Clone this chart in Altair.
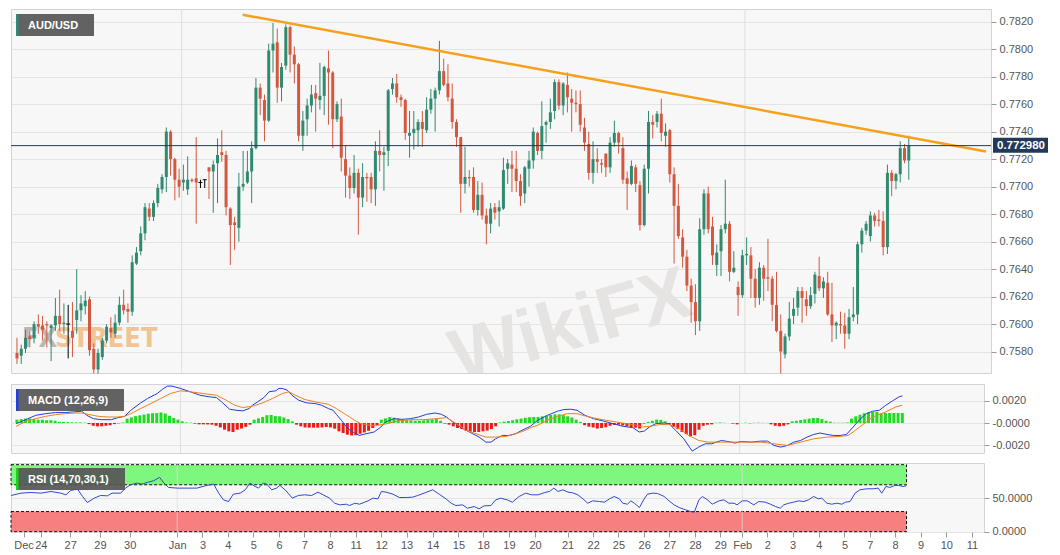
import altair as alt
import pandas as pd

# ------------------------------------------------------------------ data
# 4-hour AUD/USD candles (index 0 = first visible candle)
candle_open = [
    0.7579, 0.7577, 0.7582, 0.7591, 0.7590, 0.7600, 0.7599, 0.7600, 0.7597, 0.7599,
    0.7606, 0.7600, 0.7600, 0.7595, 0.7603, 0.7610, 0.7613, 0.7618, 0.7582, 0.7567,
    0.7576, 0.7588, 0.7597, 0.7593, 0.7601, 0.7614, 0.7611, 0.7609, 0.7644, 0.7653,
    0.7666, 0.7684, 0.7678, 0.7688, 0.7698, 0.7707, 0.7740, 0.7720, 0.7705, 0.7703,
    0.7698, 0.7705, 0.7706, 0.7703, 0.7705, 0.7714, 0.7711, 0.7717, 0.7725, 0.7723,
    0.7684, 0.7674, 0.7670, 0.7700, 0.7703, 0.7711, 0.7728, 0.7772, 0.7763, 0.7748,
    0.7799, 0.7805, 0.7772, 0.7788, 0.7816, 0.7796, 0.7789, 0.7737, 0.7749, 0.7759,
    0.7768, 0.7763, 0.7766, 0.7786, 0.7783, 0.7749, 0.7751, 0.7720, 0.7708, 0.7699,
    0.7710, 0.7692, 0.7707, 0.7707, 0.7698, 0.7726, 0.7723, 0.7726, 0.7771, 0.7775,
    0.7765, 0.7763, 0.7737, 0.7739, 0.7741, 0.7747, 0.7741, 0.7756, 0.7764, 0.7770,
    0.7784, 0.7775, 0.7764, 0.7747, 0.7736, 0.7702, 0.7707, 0.7707, 0.7683, 0.7694,
    0.7679, 0.7673, 0.7685, 0.7682, 0.7684, 0.7713, 0.7716, 0.7713, 0.7704, 0.7695,
    0.7713, 0.7719, 0.7739, 0.7726, 0.7745, 0.7747, 0.7755, 0.7776, 0.7759, 0.7774,
    0.7764, 0.7761, 0.7760, 0.7743, 0.7731, 0.7710, 0.7720, 0.7717, 0.7724, 0.7714,
    0.7732, 0.7739, 0.7728, 0.7706, 0.7702, 0.7714, 0.7701, 0.7672, 0.7713, 0.7747,
    0.7747, 0.7753, 0.7737, 0.7741, 0.7709, 0.7686, 0.7663, 0.7649, 0.7628, 0.7616,
    0.7602, 0.7669, 0.7695, 0.7671, 0.7643, 0.7653, 0.7669, 0.7673, 0.7638, 0.7627,
    0.7621, 0.7650, 0.7650, 0.7633, 0.7619, 0.7641, 0.7634, 0.7633, 0.7614, 0.7595,
    0.7578, 0.7591, 0.7606, 0.7612, 0.7624, 0.7618, 0.7613, 0.7622, 0.7635, 0.7626,
    0.7630, 0.7607, 0.7599, 0.7600, 0.7599, 0.7593, 0.7605, 0.7607, 0.7658, 0.7668,
    0.7664, 0.7679, 0.7676, 0.7675, 0.7656, 0.7710, 0.7704, 0.7709, 0.7728, 0.7719,
]
candle_high = [
    0.7590, 0.7585, 0.7596, 0.7595, 0.7602, 0.7607, 0.7606, 0.7602, 0.7600, 0.7619,
    0.7625, 0.7615, 0.7614, 0.7616, 0.7640, 0.7621, 0.7624, 0.7620, 0.7586, 0.7582,
    0.7590, 0.7600, 0.7605, 0.7607, 0.7620, 0.7625, 0.7615, 0.7650, 0.7656, 0.7671,
    0.7688, 0.7688, 0.7690, 0.7702, 0.7709, 0.7743, 0.7741, 0.7721, 0.7713, 0.7716,
    0.7722, 0.7706, 0.7736, 0.7705, 0.7705, 0.7714, 0.7719, 0.7735, 0.7741, 0.7726,
    0.7685, 0.7678, 0.7710, 0.7726, 0.7726, 0.7733, 0.7779, 0.7775, 0.7767, 0.7804,
    0.7819, 0.7815, 0.7790, 0.7818, 0.7817, 0.7802, 0.7790, 0.7755, 0.7764, 0.7774,
    0.7774, 0.7790, 0.7788, 0.7799, 0.7784, 0.7762, 0.7764, 0.7730, 0.7714, 0.7723,
    0.7713, 0.7717, 0.7710, 0.7710, 0.7733, 0.7741, 0.7729, 0.7771, 0.7779, 0.7782,
    0.7767, 0.7764, 0.7755, 0.7755, 0.7749, 0.7755, 0.7765, 0.7771, 0.7772, 0.7806,
    0.7793, 0.7789, 0.7775, 0.7749, 0.7736, 0.7729, 0.7712, 0.7714, 0.7704, 0.7703,
    0.7684, 0.7688, 0.7688, 0.7690, 0.7721, 0.7720, 0.7726, 0.7726, 0.7709, 0.7715,
    0.7726, 0.7743, 0.7740, 0.7762, 0.7748, 0.7764, 0.7778, 0.7778, 0.7776, 0.7783,
    0.7771, 0.7770, 0.7770, 0.7750, 0.7740, 0.7733, 0.7728, 0.7720, 0.7724, 0.7736,
    0.7748, 0.7740, 0.7736, 0.7711, 0.7719, 0.7716, 0.7704, 0.7716, 0.7755, 0.7752,
    0.7755, 0.7764, 0.7746, 0.7742, 0.7714, 0.7702, 0.7669, 0.7654, 0.7633, 0.7629,
    0.7677, 0.7698, 0.7700, 0.7678, 0.7658, 0.7672, 0.7705, 0.7675, 0.7653, 0.7631,
    0.7654, 0.7663, 0.7656, 0.7640, 0.7645, 0.7643, 0.7662, 0.7635, 0.7638, 0.7607,
    0.7593, 0.7616, 0.7619, 0.7627, 0.7627, 0.7624, 0.7627, 0.7638, 0.7649, 0.7634,
    0.7638, 0.7630, 0.7602, 0.7609, 0.7608, 0.7611, 0.7627, 0.7660, 0.7670, 0.7675,
    0.7682, 0.7681, 0.7683, 0.7682, 0.7716, 0.7712, 0.7710, 0.7733, 0.7731, 0.7737,
]
candle_low = [
    0.7571, 0.7571, 0.7579, 0.7583, 0.7586, 0.7593, 0.7588, 0.7583, 0.7573, 0.7595,
    0.7595, 0.7593, 0.7575, 0.7576, 0.7593, 0.7602, 0.7607, 0.7577, 0.7564, 0.7564,
    0.7574, 0.7586, 0.7590, 0.7590, 0.7599, 0.7607, 0.7601, 0.7606, 0.7643, 0.7650,
    0.7661, 0.7675, 0.7675, 0.7685, 0.7695, 0.7696, 0.7708, 0.7690, 0.7692, 0.7697,
    0.7694, 0.7703, 0.7673, 0.7699, 0.7699, 0.7691, 0.7681, 0.7688, 0.7718, 0.7679,
    0.7643, 0.7654, 0.7660, 0.7697, 0.7702, 0.7688, 0.7727, 0.7752, 0.7733, 0.7747,
    0.7783, 0.7761, 0.7762, 0.7785, 0.7783, 0.7775, 0.7733, 0.7726, 0.7737, 0.7754,
    0.7740, 0.7756, 0.7752, 0.7745, 0.7728, 0.7747, 0.7711, 0.7692, 0.7691, 0.7695,
    0.7665, 0.7685, 0.7689, 0.7688, 0.7686, 0.7711, 0.7697, 0.7715, 0.7767, 0.7761,
    0.7758, 0.7734, 0.7721, 0.7727, 0.7729, 0.7729, 0.7739, 0.7753, 0.7740, 0.7767,
    0.7773, 0.7762, 0.7742, 0.7729, 0.7681, 0.7695, 0.7700, 0.7681, 0.7679, 0.7676,
    0.7658, 0.7666, 0.7676, 0.7671, 0.7683, 0.7702, 0.7696, 0.7696, 0.7686, 0.7688,
    0.7700, 0.7713, 0.7723, 0.7720, 0.7732, 0.7742, 0.7749, 0.7756, 0.7752, 0.7754,
    0.7740, 0.7754, 0.7740, 0.7726, 0.7705, 0.7702, 0.7710, 0.7710, 0.7707, 0.7710,
    0.7729, 0.7724, 0.7702, 0.7683, 0.7701, 0.7696, 0.7668, 0.7671, 0.7695, 0.7735,
    0.7743, 0.7733, 0.7729, 0.7703, 0.7644, 0.7662, 0.7641, 0.7624, 0.7601, 0.7592,
    0.7595, 0.7665, 0.7666, 0.7643, 0.7635, 0.7635, 0.7666, 0.7631, 0.7637, 0.7606,
    0.7619, 0.7643, 0.7619, 0.7612, 0.7614, 0.7617, 0.7624, 0.7602, 0.7594, 0.7564,
    0.7575, 0.7588, 0.7600, 0.7606, 0.7601, 0.7606, 0.7611, 0.7615, 0.7624, 0.7619,
    0.7606, 0.7587, 0.7589, 0.7593, 0.7582, 0.7589, 0.7602, 0.7600, 0.7652, 0.7665,
    0.7660, 0.7671, 0.7671, 0.7650, 0.7651, 0.7693, 0.7698, 0.7703, 0.7717, 0.7705,
]
candle_close = [
    0.7575, 0.7582, 0.7590, 0.7589, 0.7600, 0.7598, 0.7596, 0.7599, 0.7599, 0.7606,
    0.7600, 0.7601, 0.7600, 0.7590, 0.7610, 0.7615, 0.7617, 0.7581, 0.7567, 0.7579,
    0.7588, 0.7598, 0.7594, 0.7601, 0.7614, 0.7610, 0.7609, 0.7645, 0.7652, 0.7666,
    0.7685, 0.7678, 0.7688, 0.7699, 0.7707, 0.7740, 0.7720, 0.7705, 0.7700, 0.7705,
    0.7705, 0.7704, 0.7703, 0.7703, 0.7705, 0.7711, 0.7716, 0.7723, 0.7723, 0.7685,
    0.7672, 0.7672, 0.7700, 0.7702, 0.7711, 0.7728, 0.7772, 0.7764, 0.7748, 0.7799,
    0.7804, 0.7772, 0.7787, 0.7816, 0.7796, 0.7789, 0.7737, 0.7748, 0.7759, 0.7767,
    0.7764, 0.7766, 0.7787, 0.7783, 0.7749, 0.7760, 0.7721, 0.7708, 0.7699, 0.7710,
    0.7692, 0.7707, 0.7706, 0.7698, 0.7726, 0.7723, 0.7725, 0.7770, 0.7775, 0.7765,
    0.7763, 0.7739, 0.7739, 0.7742, 0.7747, 0.7742, 0.7756, 0.7764, 0.7770, 0.7784,
    0.7774, 0.7765, 0.7747, 0.7736, 0.7702, 0.7707, 0.7706, 0.7683, 0.7694, 0.7679,
    0.7673, 0.7684, 0.7681, 0.7685, 0.7712, 0.7717, 0.7713, 0.7704, 0.7693, 0.7714,
    0.7719, 0.7740, 0.7726, 0.7744, 0.7747, 0.7754, 0.7776, 0.7759, 0.7775, 0.7765,
    0.7761, 0.7760, 0.7745, 0.7732, 0.7710, 0.7720, 0.7718, 0.7716, 0.7714, 0.7732,
    0.7739, 0.7732, 0.7705, 0.7702, 0.7715, 0.7702, 0.7672, 0.7713, 0.7747, 0.7745,
    0.7753, 0.7739, 0.7740, 0.7709, 0.7686, 0.7664, 0.7649, 0.7628, 0.7616, 0.7602,
    0.7669, 0.7695, 0.7669, 0.7650, 0.7652, 0.7669, 0.7673, 0.7638, 0.7641, 0.7621,
    0.7650, 0.7651, 0.7633, 0.7619, 0.7641, 0.7633, 0.7633, 0.7614, 0.7595, 0.7580,
    0.7591, 0.7604, 0.7611, 0.7624, 0.7619, 0.7613, 0.7621, 0.7636, 0.7626, 0.7631,
    0.7607, 0.7599, 0.7601, 0.7599, 0.7593, 0.7605, 0.7607, 0.7658, 0.7668, 0.7673,
    0.7679, 0.7675, 0.7675, 0.7656, 0.7710, 0.7704, 0.7709, 0.7728, 0.7719, 0.7730,
]

# MACD histogram, one bar per candle (units of 0.001)
macd_hist = [
    0.3, 0.35, 0.4, 0.4, 0.35, 0.3, 0.3, 0.25, 0.25, 0.2,
    0.1, 0.1, 0.08, 0.06, 0.05, 0.05, 0.03, -0.1, -0.25, -0.3,
    -0.3, -0.25, -0.2, -0.1, -0.03, 0.05, 0.39, 0.5, 0.62, 0.69,
    0.76, 0.84, 0.88, 0.9, 0.95, 0.85, 0.65, 0.45, 0.3, 0.15,
    0.05, 0.03, -0.06, -0.12, -0.12, -0.13, -0.15, -0.25, -0.4, -0.6,
    -0.75, -0.81, -0.6, -0.5, -0.35, -0.15, 0.3, 0.42, 0.54, 0.7,
    0.72, 0.62, 0.6, 0.5, 0.35, 0.15, -0.15, -0.3, -0.4, -0.42,
    -0.42, -0.42, -0.4, -0.36, -0.4, -0.51, -0.75, -0.9, -1.05, -1.12,
    -1.1, -0.97, -0.85, -0.7, -0.45, -0.2, 0.3, 0.42, 0.54, 0.48,
    0.39, 0.3, 0.27, 0.24, 0.2, 0.2, 0.24, 0.3, 0.33, 0.39,
    0.2, -0.05, -0.15, -0.3, -0.45, -0.55, -0.7, -0.78, -0.81, -0.81,
    -0.75, -0.68, -0.55, -0.3, 0.05, 0.12, 0.18, 0.25, 0.33, 0.4,
    0.47, 0.52, 0.54, 0.55, 0.6, 0.66, 0.72, 0.78, 0.78, 0.7,
    0.6, 0.5, 0.3, 0.1, -0.2, -0.33, -0.4, -0.5, -0.45, -0.38,
    -0.25, -0.18, -0.15, -0.22, -0.3, -0.36, -0.42, -0.5, -0.05, 0.1,
    0.2, 0.3, 0.28, 0.15, -0.12, -0.35, -0.55, -0.81, -1.0, -1.2,
    -1.1, -0.6, -0.25, -0.15, -0.12, 0.02, 0.05, 0.02, 0.0, -0.06,
    -0.12, 0.0, 0.03, -0.02, 0.02, 0.03, 0.02, 0.01, -0.12, -0.25,
    -0.3, -0.25, -0.12, 0.15, 0.2, 0.27, 0.33, 0.39, 0.45, 0.45,
    0.35, 0.2, 0.12, 0.03, 0.02, 0.03, 0.05, 0.39, 0.6, 0.75,
    0.88, 0.95, 1.0, 1.0, 0.85, 0.9, 0.9, 0.9, 0.9, 0.9,
]

# MACD line (units of 0.001) read at candle positions
macd_pos = [
    -0.2, 2.1, 4.4, 6.75, 9.1, 11.4, 13.3, 15.3, 16.5, 18.0, 19.9, 22.3, 23.8, 25.4, 26.9,
    29.2, 30.8, 33.1, 34.3, 35.5, 36.6, 38.6, 40.9, 43.2, 45.5, 47.1, 48.3, 50.2, 51.7, 53.3,
    54.8, 55.6, 56.8, 58.3, 59.5, 61.1, 61.8, 62.6, 63.8, 64.9, 66.5, 68.4, 70.4, 71.9, 73.5,
    74.6, 75.4, 76.6, 78.1, 79.7, 80.8, 82.4, 84.3, 85.9, 87.0, 89.0, 90.9, 92.9, 94.8, 96.7,
    98.7, 100.2, 101.4, 102.9, 105.3, 107.6, 109.1, 110.7, 111.9, 113.0, 114.6, 116.1, 117.7, 119.2, 121.2,
    122.9, 125.2, 127.6, 129.1, 130.7, 132.2, 134.1, 136.1, 138.4, 140.7, 143.1, 145.4, 146.9, 148.1, 149.3,
    150.8, 152.8, 153.9, 155.5, 157.4, 159.4, 160.9, 162.5, 164.0, 166.3, 168.7, 169.4, 171.0, 173.3, 175.6,
    177.2, 178.7, 180.3, 181.9, 183.4, 185.0, 186.5, 188.1, 189.6, 191.2, 192.7, 194.3, 195.8, 197.4, 198.9,
    200.5, 202.0, 203.6, 205.1, 206.7, 208.2, 209.0,
]
macd_line = [
    -0.06, 0.30, 0.69, 0.84, 0.94, 0.94, 1.00, 1.06, 0.69, 0.39, 0.30, 0.30, 0.48, 0.60, 1.15,
    1.81, 2.20, 2.65, 3.02, 3.32, 3.32, 3.11, 2.81, 2.50, 2.35, 2.29, 1.90, 1.24, 1.15, 1.09,
    1.30, 1.60, 1.90, 2.29, 2.81, 2.90, 3.11, 3.11, 2.96, 2.50, 2.05, 1.81, 1.75, 1.60, 1.30,
    1.15, 0.78, 0.24, -0.51, -0.90, -1.12, -0.97, -0.81, -0.36, 0.09, 0.39, 0.33, 0.39, 0.54, 0.78,
    0.90, 0.78, 0.54, 0.09, -0.51, -0.97, -1.27, -1.72, -1.72, -1.42, -1.12, -1.12, -0.97, -0.66, -0.30,
    0.24, 0.69, 1.06, 1.21, 1.24, 1.15, 0.69, 0.39, 0.18, -0.06, -0.30, -0.42, -0.81, -0.72, -0.36,
    -0.06, 0.0, -0.06, -0.66, -1.42, -2.53, -2.17, -1.87, -1.87, -1.57, -1.72, -1.81, -1.66, -1.72, -1.63,
    -1.63, -2.02, -2.17, -2.02, -1.72, -1.57, -1.27, -1.03, -0.90, -1.03, -1.12, -1.12, -1.03, -0.36, 0.30,
    0.84, 1.06, 1.15, 1.60, 1.99, 2.35, 2.44,
]
# signal line (units of 0.001)
signal_pos = [
    -0.2, 2.1, 4.4, 6.75, 9.1, 11.4, 13.7, 15.3, 16.8, 19.2, 21.5, 23.8, 25.4, 26.9, 29.2,
    31.6, 33.9, 36.2, 38.6, 40.9, 44.0, 47.1, 49.4, 51.4, 53.3, 55.6, 58.0, 60.3, 62.6, 64.2,
    65.7, 68.0, 70.4, 73.5, 75.4, 77.3, 79.7, 81.2, 83.5, 85.1, 87.4, 89.8, 92.9, 96.0, 99.1,
    101.4, 103.7, 106.0, 108.4, 110.7, 113.0, 115.4, 117.7, 120.0, 121.6, 122.9, 125.2, 127.6, 129.9, 132.2,
    134.5, 136.9, 139.2, 141.5, 143.8, 146.2, 147.7, 149.3, 151.6, 153.9, 156.3, 158.6, 160.9, 163.2, 166.3,
    169.4, 172.5, 175.6, 178.7, 181.9, 185.0, 188.1, 191.2, 194.3, 196.2, 197.4, 198.9, 200.5, 202.0, 205.1,
    207.5, 209.0,
]
signal_line = [
    -0.30, 0.15, 0.39, 0.60, 0.75, 0.84, 0.90, 0.90, 0.78, 0.60, 0.54, 0.54, 0.60, 0.84, 1.30,
    1.75, 2.20, 2.65, 2.90, 2.81, 2.65, 2.50, 2.05, 1.60, 1.39, 1.51, 1.81, 2.20, 2.65, 2.81,
    2.50, 2.11, 1.90, 1.69, 1.30, 0.84, 0.24, -0.06, -0.21, -0.21, -0.06, 0.18, 0.30, 0.30, 0.39,
    0.48, -0.06, -0.66, -0.97, -1.27, -1.27, -1.21, -0.97, -0.66, -0.36, -0.21, 0.24, 0.60, 0.84, 0.84,
    0.60, 0.39, 0.24, 0.09, -0.06, -0.21, -0.36, -0.30, -0.15, -0.12, -0.51, -1.12, -1.57, -1.72, -1.72,
    -1.72, -1.72, -1.72, -1.87, -2.02, -1.72, -1.42, -1.27, -1.21, -1.12, -0.81, -0.36, 0.09, 0.54, 1.00,
    1.45, 1.60,
]

# RSI(14)
rsi_pos = [
    -0.2, 2.1, 4.4, 6.75, 9.1, 11.4, 12.6, 13.7, 15.3, 16.5, 17.6, 19.2, 20.7, 22.3, 23.4,
    25.4, 26.5, 27.7, 29.2, 30.4, 31.6, 33.1, 34.5, 35.5, 36.6, 38.6, 40.9, 43.2, 45.5, 47.1,
    48.3, 49.4, 50.6, 51.7, 53.3, 54.5, 55.6, 56.8, 57.6, 58.7, 59.5, 60.7, 61.8, 62.6, 63.8,
    64.5, 65.5, 66.9, 68.4, 70.0, 71.5, 72.7, 74.2, 75.4, 76.6, 78.1, 78.9, 80.1, 81.2, 82.4,
    83.2, 84.3, 85.5, 86.3, 87.4, 89.0, 90.5, 92.1, 93.6, 94.8, 96.3, 98.3, 99.8, 101.4, 102.6,
    103.7, 105.3, 106.4, 108.0, 109.1, 110.3, 111.9, 113.0, 114.2, 115.7, 116.9, 118.5, 120.0, 121.4,
    122.9, 124.5, 125.6, 126.6, 127.6, 128.7, 129.9, 131.0, 132.2, 133.4, 134.5, 135.7, 137.3, 138.4, 139.6,
    140.7, 141.9, 142.7, 143.8, 144.6, 145.4, 146.6, 147.7, 148.5, 149.7, 150.8, 152.4, 153.5, 154.7, 155.9,
    157.4, 158.6, 159.4, 160.5, 161.3, 162.5, 163.6, 165.2, 166.3, 167.5, 168.7, 169.4, 170.6, 171.8, 173.3,
    174.5, 176.0, 177.2, 178.4, 179.5, 180.3, 181.5, 182.6, 183.8, 185.0, 186.1, 187.3, 188.4, 189.2, 190.4,
    191.5, 192.7, 193.9, 194.7, 195.8, 197.0, 198.1, 199.7, 201.2, 202.4, 203.2, 204.2, 205.1, 206.3, 207.1,
    208.2, 209.0,
]
rsi_value = [
    54, 57.5, 58.5, 57.5, 60, 57.5, 55, 61.5, 63.5, 52.5, 43.5, 50, 54, 53.5, 57.5,
    57.5, 65, 70, 72.5, 71, 73.5, 76, 81, 72.5, 66, 65, 65, 65, 69, 71,
    57.5, 47.5, 45, 56, 57.5, 62.5, 72.5, 67.5, 65, 72.5, 71, 62.5, 65, 69, 62.5,
    57.5, 50, 54, 55, 54, 59, 55, 50, 42.5, 40, 41, 39, 42.5, 41, 44,
    46, 50, 49, 60, 59, 56, 51, 51, 51.5, 54, 57.5, 62.5, 56, 49, 42.5,
    39, 40, 35, 37.5, 34, 38.5, 39, 47.5, 50, 47.5, 44, 52.5, 57.5, 55,
    55, 58.5, 60, 65, 60, 62.5, 59, 58, 55, 49, 42.5, 46, 45, 44, 49,
    52.5, 49, 42.5, 41, 46, 42.5, 36, 49, 56, 57.5, 57, 52.5, 46, 40, 36,
    32.5, 30, 29, 47.5, 52.5, 47.5, 41, 46, 47.5, 42.5, 42.5, 40, 46, 46, 40,
    45, 44, 41, 37.5, 35, 40, 42.5, 44, 46, 45, 47.5, 52.5, 49, 50, 42.5,
    41, 42.5, 41, 44, 45, 57.5, 62.5, 64, 64, 65, 57.5, 67.5, 66, 69, 69,
    67.5, 68.5,
]

# descending trend line (candle position, price)
trend_pos = [52.9, 227.1]
trend_price = [0.7825, 0.77256]
last_price = 0.772980

# axis ticks and labels
price_ticks = [0.7580, 0.7600, 0.7620, 0.7640, 0.7660, 0.7680, 0.7700,
               0.7720, 0.7740, 0.7760, 0.7780, 0.7800, 0.7820]
macd_ticks = [-2.0, 0.0, 2.0]
macd_tick_labels = ["-0.0020", "-0.0000", "0.0020"]
rsi_ticks = [0, 50]
rsi_tick_labels = ["0.0000", "50.0000"]
date_tick_pos = [2.7, 6.75, 13.6, 20.55, 27.5, 38.6, 44.5, 50.4, 56.4, 62.4, 68.3, 74.3,
                 80.3, 86.3, 92.2, 98.3, 104.3, 110.1, 116.1, 122.2, 129.8, 135.8, 141.7,
                 147.7, 153.6, 159.6, 165.5, 170.6, 176.5, 182.4, 188.5, 194.5, 200.4,
                 206.3, 212.3, 218.3, 224.3]
date_tick_labels = ["Dec", "24", "27", "29", "30", "Jan", "3", "4", "5", "6", "7", "8",
                    "11", "12", "13", "14", "15", "18", "19", "20", "21", "22", "25",
                    "26", "27", "28", "29", "Feb", "2", "3", "4", "5", "7", "8", "9",
                    "10", "11"]
month_pos = [38.6, 170.6]

# ------------------------------------------------------------------ style
FONT = "Liberation Sans"
GREEN = "#2f8a70"
RED = "#d3583f"
NAVY = "#21395a"
ORANGE = "#f7a01c"
W_MAIN, W_LOW = 980, 973
H_MAIN, H_MACD, H_RSI = 364, 69, 69
X_DOM = [-0.23, 227.1]


def lbl_expr(vals, labels):
    return ("[" + ",".join(repr(s) for s in labels) + "][indexof(["
            + ",".join(repr(v) for v in vals) + "], datum.value)]")


def xsc():
    return alt.Scale(domain=X_DOM, nice=False, zero=False)


def label_box(text, bar_color, x_end):
    d = pd.DataFrame({"t": [text]})
    bg = alt.Chart(d).mark_rect(color="#565656", opacity=0.93).encode(
        x=alt.value(5), x2=alt.value(x_end), y=alt.value(5), y2=alt.value(27))
    bar = alt.Chart(d).mark_rect(color=bar_color).encode(
        x=alt.value(5), x2=alt.value(7.5), y=alt.value(5), y2=alt.value(27))
    tx = alt.Chart(d).mark_text(align="left", baseline="middle", color="white",
                                fontWeight="bold", fontSize=11, font=FONT).encode(
        x=alt.value(17), y=alt.value(16.5), text="t:N")
    return [bg, bar, tx]


# ------------------------------------------------------------------ main panel
n = len(candle_close)
cd = pd.DataFrame({"i": list(range(n)), "o": candle_open, "h": candle_high,
                   "l": candle_low, "c": candle_close})
cd["top"] = cd[["o", "c"]].max(axis=1)
cd["bot"] = cd[["o", "c"]].min(axis=1)
cd["dir"] = ["up" if c > o else ("down" if c < o else "flat")
             for o, c in zip(candle_open, candle_close)]

ys = alt.Scale(domain=[0.75644, 0.78292], nice=False, zero=False)
p_axis = alt.Axis(orient="right", values=price_ticks, format=".4f", grid=True,
                  tickSize=5, labelPadding=3, title=None)
xm = alt.X("i:Q", scale=xsc(), axis=None, title=None)
ccol = alt.Color("dir:N", scale=alt.Scale(domain=["up", "down", "flat"],
                                          range=[GREEN, RED, "#000000"]), legend=None)

wm_text = alt.Chart(pd.DataFrame({"t": ["WikiFX"]})).mark_text(
    fontSize=74, fontWeight="bold", color="#e6e3e3", angle=344, font=FONT,
    clip=True).encode(x=alt.value(560), y=alt.value(318), text="t:N")
fx_a = alt.Chart(pd.DataFrame({"t": ["FX"]})).mark_text(
    fontSize=27, fontWeight="bold", color="#a9a9a9", opacity=0.8,
    font="DejaVu Sans Condensed", align="left", clip=True).encode(
    x=alt.value(11), y=alt.value(330), text="t:N")
fx_b = alt.Chart(pd.DataFrame({"t": ["STREET"]})).mark_text(
    fontSize=27, fontWeight="bold", color="#f1bc84", opacity=0.85,
    font="DejaVu Sans Condensed", align="left", clip=True).encode(
    x=alt.value(44), y=alt.value(330), text="t:N")

mgrid = alt.Chart(pd.DataFrame({"i": month_pos})).mark_rule(
    color="#dedede", strokeWidth=1).encode(x=xm)

wick = alt.Chart(cd).mark_rule(strokeWidth=1).encode(
    x=xm, y=alt.Y("l:Q", scale=ys, axis=p_axis), y2="h:Q", color=ccol)
body = alt.Chart(cd).transform_filter("datum.dir != 'flat'").mark_bar(size=3).encode(
    x=xm, y=alt.Y("bot:Q", scale=ys, axis=p_axis), y2="top:Q", color=ccol)
doji = alt.Chart(cd).transform_filter("datum.dir == 'flat'").mark_rule(
    strokeWidth=1, xOffset=-2, x2Offset=2).encode(
    x=xm, x2="i:Q", y=alt.Y("c:Q", scale=ys, axis=p_axis), color=ccol)

trend = alt.Chart(pd.DataFrame({"i": trend_pos, "p": trend_price})).mark_line(
    color=ORANGE, strokeWidth=2.5, clip=True).encode(
    x=xm, y=alt.Y("p:Q", scale=ys, axis=p_axis))

lp = pd.DataFrame({"p": [last_price]})
pline = alt.Chart(lp).mark_rule(color=NAVY, strokeWidth=1).encode(
    y=alt.Y("p:Q", scale=ys, axis=p_axis))
pbox = alt.Chart(lp).mark_rect(color=NAVY, yOffset=-8, y2Offset=7).encode(
    x=alt.value(W_MAIN + 2), x2=alt.value(W_MAIN + 57),
    y=alt.Y("p:Q", scale=ys, axis=p_axis), y2="p:Q")
ptext = alt.Chart(lp).mark_text(align="left", baseline="middle", color="white",
                                fontWeight="bold", fontSize=11.5, font=FONT).encode(
    x=alt.value(W_MAIN + 6), y=alt.Y("p:Q", scale=ys, axis=p_axis),
    text=alt.Text("p:Q", format=".6f"))

main = alt.layer(wm_text, fx_a, fx_b, mgrid, wick, body, doji, trend,
                 pline, pbox, ptext, *label_box("AUD/USD", "#2e8b76", 83)).properties(
    width=W_MAIN, height=H_MAIN)

# ------------------------------------------------------------------ MACD panel
ms = alt.Scale(domain=[-2.7, 3.51], nice=False, zero=False)
m_axis = alt.Axis(orient="right", values=macd_ticks,
                  labelExpr=lbl_expr(macd_ticks, macd_tick_labels),
                  grid=True, tickSize=5, labelPadding=3, title=None)
xl = alt.X("i:Q", scale=xsc(), axis=None, title=None)

hd = pd.DataFrame({"i": list(range(len(macd_hist))), "v": macd_hist})
hist = alt.Chart(hd).mark_bar(size=3).encode(
    x=xl, y=alt.Y("v:Q", scale=ms, axis=m_axis), y2=alt.datum(0),
    color=alt.condition("datum.v >= 0", alt.value("#1fdc1f"), alt.value("#ee1a1a")))
mline = alt.Chart(pd.DataFrame({"i": macd_pos, "v": macd_line})).mark_line(
    color="#2340d8", strokeWidth=1).encode(x=xl, y=alt.Y("v:Q", scale=ms, axis=m_axis))
sline = alt.Chart(pd.DataFrame({"i": signal_pos, "v": signal_line})).mark_line(
    color="#f07f22", strokeWidth=1).encode(x=xl, y=alt.Y("v:Q", scale=ms, axis=m_axis))
lgrid = alt.Chart(pd.DataFrame({"i": month_pos})).mark_rule(
    color="#dedede", strokeWidth=1).encode(x=xl)

macd = alt.layer(lgrid, hist, mline, sline,
                 *label_box("MACD (12,26,9)", "#1f3fe0", 113)).properties(
    width=W_LOW, height=H_MACD)

# ------------------------------------------------------------------ RSI panel
rs = alt.Scale(domain=[-0.5, 102.5], nice=False, zero=False)
r_axis = alt.Axis(orient="right", values=rsi_ticks,
                  labelExpr=lbl_expr(rsi_ticks, rsi_tick_labels),
                  grid=True, tickSize=5, labelPadding=3, title=None)
d_axis = alt.Axis(values=date_tick_pos, labelExpr=lbl_expr(date_tick_pos, date_tick_labels),
                  labelOverlap=False, labelFlush=False, labelBound=False, grid=False,
                  tickSize=5, labelPadding=2, title=None)
xr = alt.X("i:Q", scale=xsc(), axis=d_axis, title=None)

bands = pd.DataFrame({"i": [X_DOM[0], X_DOM[0]], "i2": [209.0, 209.0],
                      "y0": [70, 0], "y1": [100, 30], "z": ["ob", "os"]})
band = alt.Chart(bands).mark_rect(stroke="#111111", strokeWidth=1,
                                  strokeDash=[3, 2]).encode(
    x=xr, x2="i2:Q", y=alt.Y("y0:Q", scale=rs, axis=r_axis), y2="y1:Q",
    fill=alt.Fill("z:N", scale=alt.Scale(domain=["ob", "os"],
                                         range=["#7ef77e", "#f87f7f"]), legend=None))
rgrid = alt.Chart(pd.DataFrame({"i": month_pos})).mark_rule(
    color="#dedede", strokeWidth=1, opacity=0.7).encode(x=xr)
rline = alt.Chart(pd.DataFrame({"i": rsi_pos, "v": rsi_value})).mark_line(
    color="#3049d2", strokeWidth=1).encode(x=xr, y=alt.Y("v:Q", scale=rs, axis=r_axis))

rsi = alt.layer(band, rgrid, rline,
                *label_box("RSI (14,70,30,1)", "#19d419", 114)).properties(
    width=W_LOW, height=H_RSI)

chart = alt.vconcat(main, macd, rsi, spacing=8).properties(
    padding={"left": 0, "right": 0, "top": 0, "bottom": 0}, background="white"
).configure_view(fill="#f7f7f7", stroke="#d2d2da", strokeWidth=1).configure_axis(
    labelFont=FONT, labelFontSize=11, labelColor="#555555", tickColor="#9a9a9a",
    domain=False, gridColor="#e4e4e4", gridWidth=1)

chart.save("out.html", embed_options={"renderer": "svg", "actions": False})
